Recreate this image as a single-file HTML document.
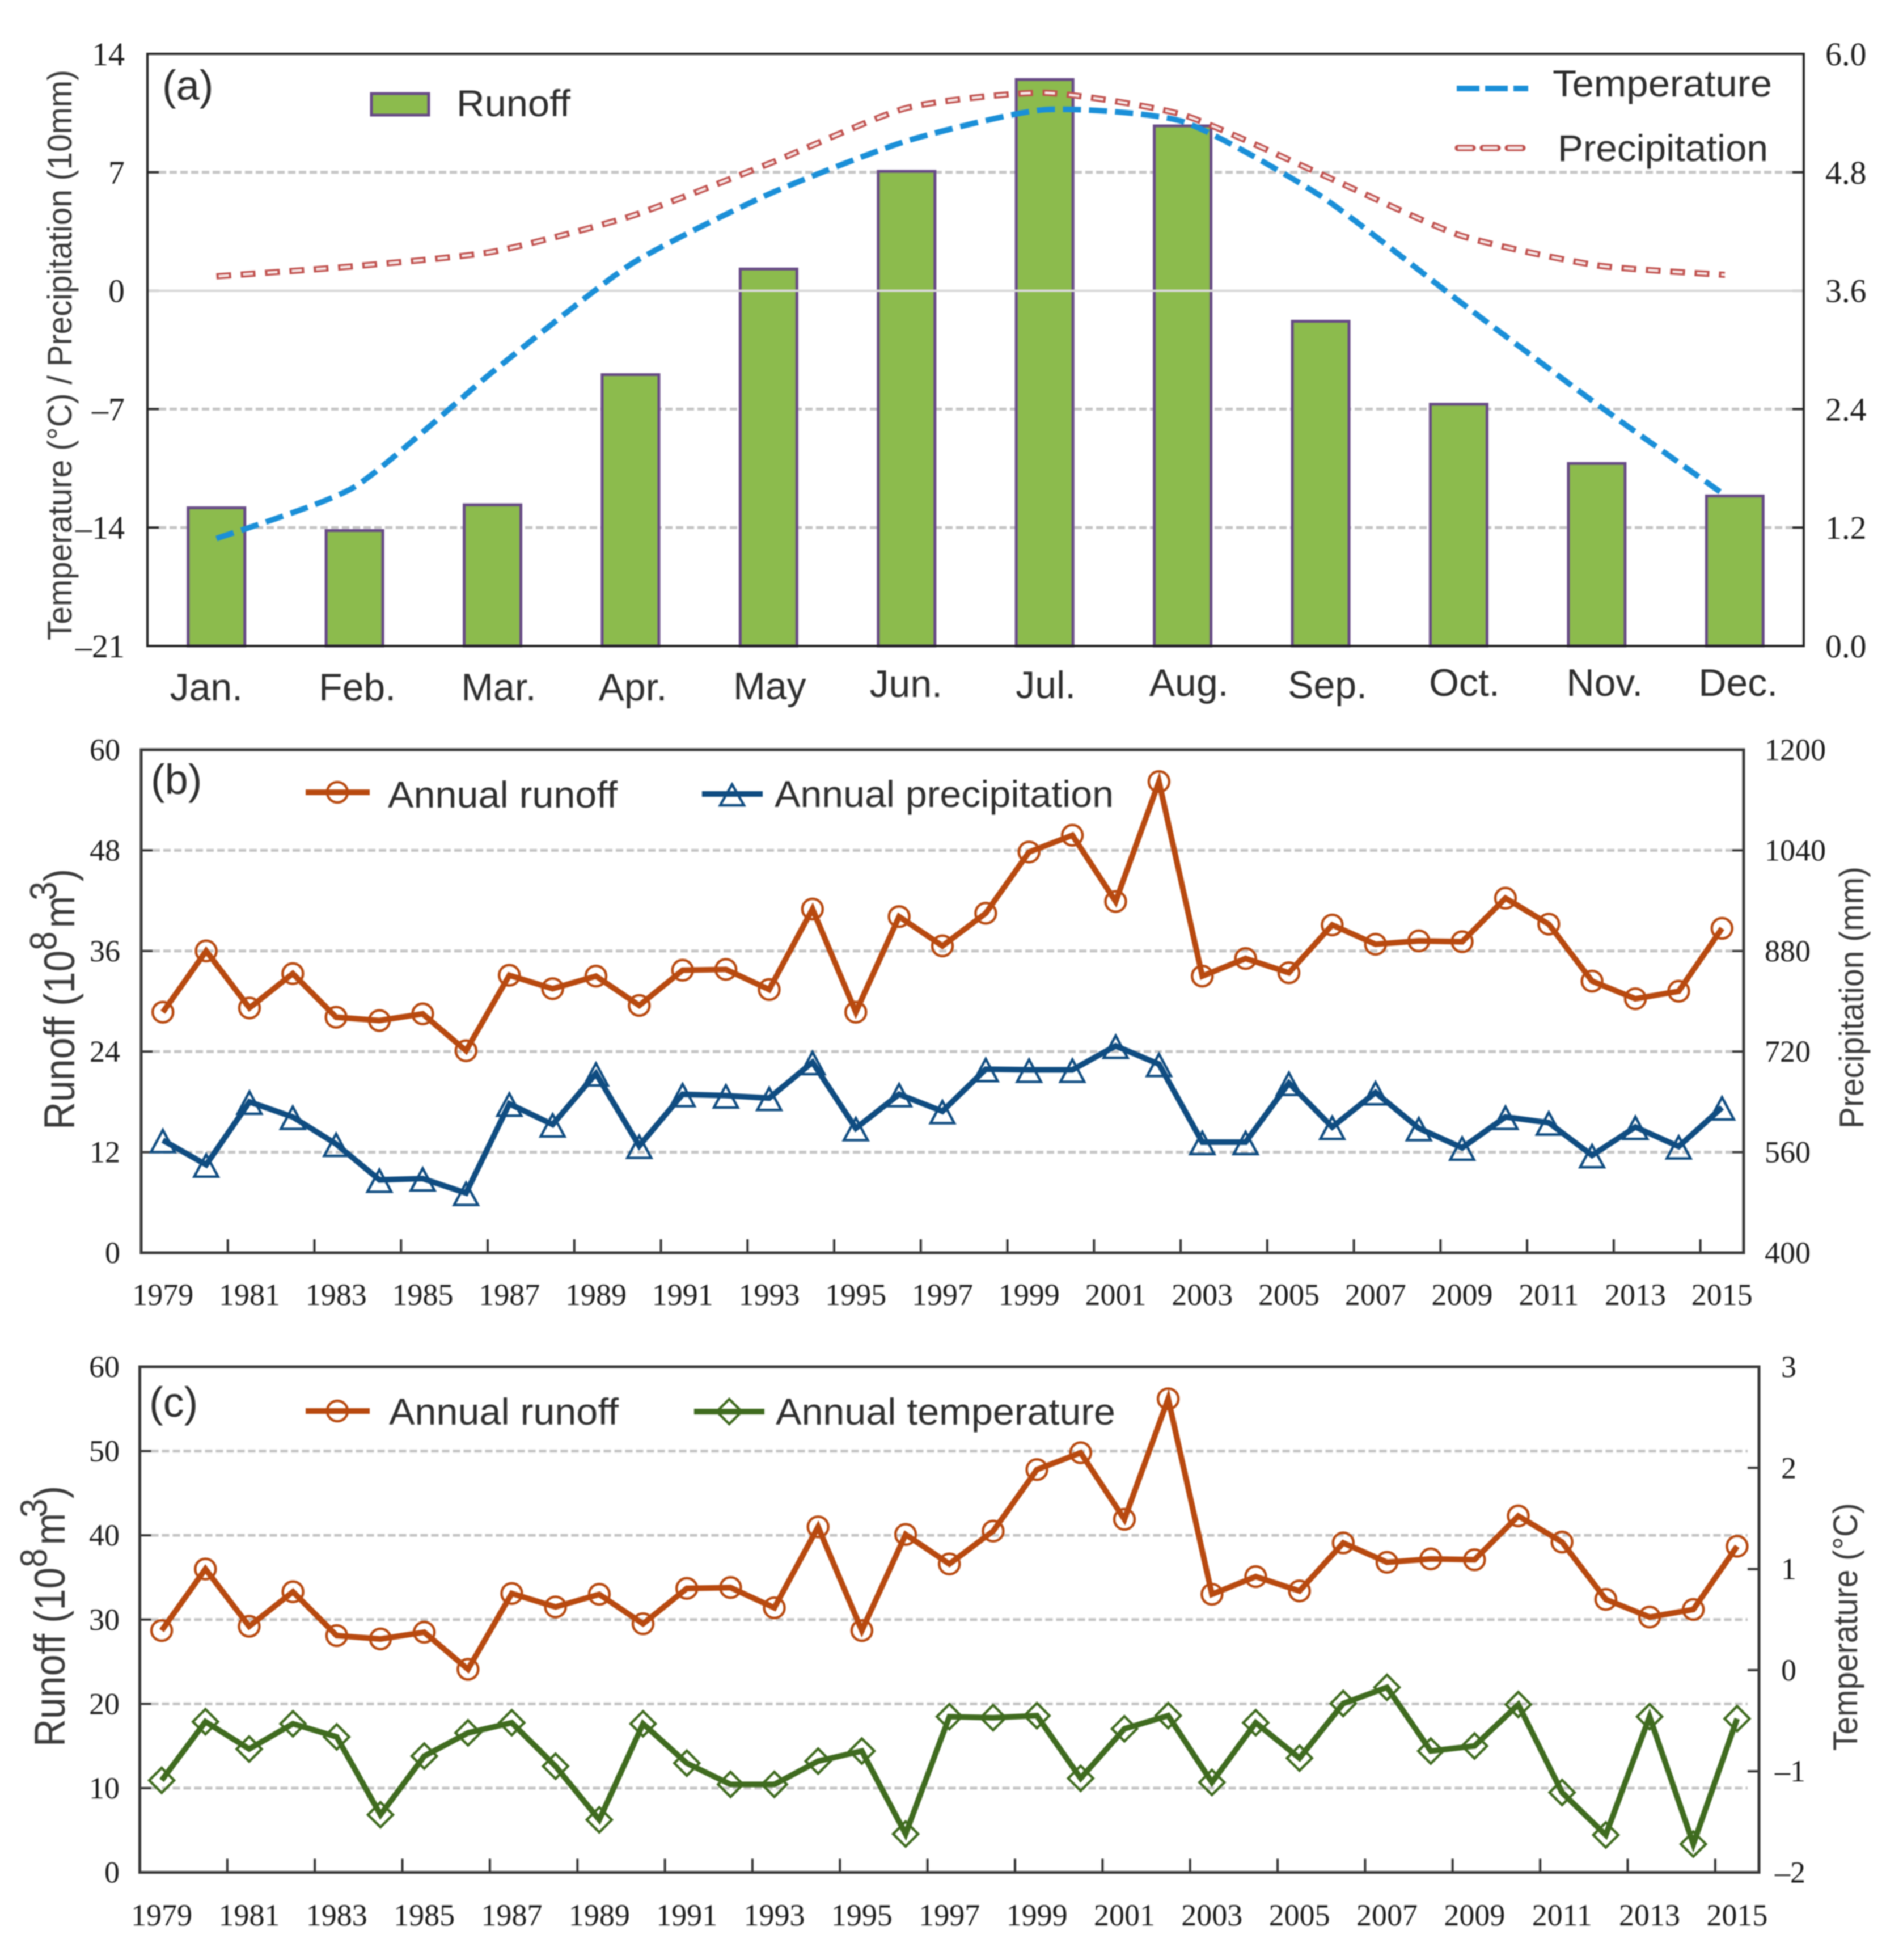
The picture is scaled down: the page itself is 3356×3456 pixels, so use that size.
<!DOCTYPE html>
<html lang="en">
<head>
<meta charset="utf-8">
<title>Monthly and annual runoff, precipitation and temperature</title>
<style>
  html, body { margin: 0; padding: 0; background: #fff; }
  body { width: 3356px; height: 3456px; overflow: hidden; }
  #figure { display: block; filter: blur(1px); }
  .sans { font-family: "Liberation Sans", sans-serif; fill: #2e2e2e; }
  .serif { font-family: "Liberation Serif", serif; fill: #1c1c1c; }
  .leg { font-size: 66px; }
  .panel-tag { font-size: 74px; }
  .title { font-size: 60px; fill: #3c3c3c; }
  .title-big { font-size: 68px; fill: #3c3c3c; }
</style>
</head>
<body>
<svg id="figure" xmlns="http://www.w3.org/2000/svg" width="3356" height="3456" viewBox="0 0 3356 3456">
  <defs>
    <clipPath id="curve-clip"><rect x="260" y="95" width="2782" height="1044"/></clipPath>
  </defs>
  <rect width="3356" height="3456" fill="#fff"/>

  <g id="panel-a"></g>
  <g id="panel-b"></g>
  <g id="panel-c"></g>

  <!-- Panel A annotations -->
  <text class="sans panel-tag" x="286" y="176">(a)</text>
  <text class="sans title" transform="translate(126,1129) rotate(-90)" textLength="1006" lengthAdjust="spacingAndGlyphs">Temperature (°C) / Precipitation (10mm)</text>
  <g>
    <rect x="655" y="165" width="101" height="38" fill="#8cbb4d" stroke="#674a86" stroke-width="5"/>
    <text class="sans leg" x="805" y="205" textLength="201" lengthAdjust="spacingAndGlyphs">Runoff</text>
  </g>
  <g>
    <line x1="2569" y1="156" x2="2695" y2="156" stroke="#1a8fd8" stroke-width="10" stroke-dasharray="40 10"/>
    <text class="sans leg" x="2738" y="170" textLength="387" lengthAdjust="spacingAndGlyphs">Temperature</text>
  </g>
  <g>
    <line x1="2571" y1="261" x2="2695" y2="261" stroke="#c0504d" stroke-width="11" stroke-dasharray="26 18" stroke-linecap="round"/>
    <line x1="2571" y1="261" x2="2695" y2="261" stroke="#f4e6e6" stroke-width="5" stroke-dasharray="26 18"/>
    <text class="sans leg" x="2747" y="284" textLength="371" lengthAdjust="spacingAndGlyphs">Precipitation</text>
  </g>

  <!-- Panel B annotations -->
  <text class="sans panel-tag" x="266" y="1400">(b)</text>
  <text class="sans title-big" transform="translate(131,1992) rotate(-90) scale(1,1.12)">Runoff (10<tspan dy="-28" font-size="60">8</tspan><tspan dy="28" dx="6">m</tspan><tspan dy="-28" dx="-8" font-size="60">3</tspan><tspan dy="28">)</tspan></text>
  <text class="sans title" transform="translate(3286,1990) rotate(-90)" textLength="462" lengthAdjust="spacingAndGlyphs">Precipitation (mm)</text>
  <g>
    <line x1="539" y1="1397" x2="652" y2="1397" stroke="#b8490f" stroke-width="10"/>
    <circle cx="595" cy="1397" r="18" fill="none" stroke="#b8490f" stroke-width="4.5"/>
    <text class="sans leg" x="684" y="1424" textLength="405" lengthAdjust="spacingAndGlyphs">Annual runoff</text>
  </g>
  <g>
    <line x1="1238" y1="1400" x2="1345" y2="1400" stroke="#0f4c81" stroke-width="10"/>
    <polygon points="1291,1383 1312,1420 1270,1420" fill="none" stroke="#0f4c81" stroke-width="4.5"/>
    <text class="sans leg" x="1366" y="1423" textLength="598" lengthAdjust="spacingAndGlyphs">Annual precipitation</text>
  </g>

  <!-- Panel C annotations -->
  <text class="sans panel-tag" x="263" y="2498">(c)</text>
  <text class="sans title-big" transform="translate(114,3080) rotate(-90) scale(1,1.12)">Runoff (10<tspan dy="-28" font-size="60">8</tspan><tspan dy="28" dx="6">m</tspan><tspan dy="-28" dx="-8" font-size="60">3</tspan><tspan dy="28">)</tspan></text>
  <text class="sans title" transform="translate(3275,3087) rotate(-90)" textLength="437" lengthAdjust="spacingAndGlyphs">Temperature (°C)</text>
  <g>
    <line x1="539" y1="2488" x2="652" y2="2488" stroke="#b8490f" stroke-width="10"/>
    <circle cx="595" cy="2488" r="18" fill="none" stroke="#b8490f" stroke-width="4.5"/>
    <text class="sans leg" x="686" y="2512" textLength="405" lengthAdjust="spacingAndGlyphs">Annual runoff</text>
  </g>
  <g>
    <line x1="1224" y1="2489" x2="1348" y2="2489" stroke="#3f6b1f" stroke-width="10"/>
    <polygon points="1286,2467 1308,2489 1286,2511 1264,2489" fill="none" stroke="#3f6b1f" stroke-width="4.5"/>
    <text class="sans leg" x="1368" y="2512" textLength="599" lengthAdjust="spacingAndGlyphs">Annual temperature</text>
  </g>
</svg>

<script>
/* ---------- chart data ---------- */
const months = ['Jan.','Feb.','Mar.','Apr.','May','Jun.','Jul.','Aug.','Sep.','Oct.','Nov.','Dec.'];
const monthlyRunoff = [1.40,1.17,1.43,2.75,3.82,4.81,5.74,5.27,3.29,2.45,1.85,1.52];
const monthlyTemperature = [-14.65,-11.6,-4.8,1.55,5.7,8.85,10.7,10.0,5.6,-0.6,-6.7,-12.5];
const monthlyPrecipitation = [0.85,1.45,2.3,4.4,7.5,10.8,11.7,10.4,6.9,3.3,1.5,0.9];
const ticksATemperature = [-21,-14,-7,0,7,14];
const ticksARunoff = ['0.0','1.2','2.4','3.6','4.8','6.0'];

const years = [1979,1980,1981,1982,1983,1984,1985,1986,1987,1988,1989,1990,1991,1992,1993,1994,1995,1996,1997,1998,1999,2000,2001,2002,2003,2004,2005,2006,2007,2008,2009,2010,2011,2012,2013,2014,2015];
const annualRunoff = [28.7,36.0,29.2,33.3,28.1,27.7,28.5,24.1,33.1,31.5,33.0,29.5,33.7,33.8,31.4,41.0,28.7,40.1,36.6,40.5,47.8,49.8,41.9,56.2,33.0,35.1,33.4,39.1,36.8,37.2,37.1,42.3,39.2,32.4,30.3,31.2,38.7];
const annualPrecipitation = [579,540,640,616,573,516,518,495,637,604,685,570,652,650,646,703,598,652,625,692,691,691,729,700,576,576,670,600,655,598,567,616,607,555,600,569,631];
const annualTemperature = [-1.09,-0.51,-0.78,-0.53,-0.66,-1.43,-0.85,-0.62,-0.52,-0.95,-1.48,-0.53,-0.92,-1.13,-1.13,-0.90,-0.80,-1.62,-0.46,-0.47,-0.45,-1.07,-0.58,-0.45,-1.11,-0.52,-0.87,-0.33,-0.17,-0.80,-0.75,-0.34,-1.21,-1.63,-0.46,-1.72,-0.48];

const ticksBRunoff = [0,12,24,36,48,60];
const ticksBPrecipitation = [400,560,720,880,1040,1200];
const ticksCRunoff = [0,10,20,30,40,50,60];
const ticksCTemperature = [-2,-1,0,1,2,3];

/* ---------- helpers ---------- */
const SVG_NS = 'http://www.w3.org/2000/svg';
function make(parent, tag, attrs, text) {
  const el = document.createElementNS(SVG_NS, tag);
  for (const k in attrs) el.setAttribute(k, attrs[k]);
  if (text !== undefined) el.textContent = text;
  parent.appendChild(el);
  return el;
}
function linear(d0, d1, r0, r1) {
  return v => r0 + (Number(v) - d0) * (r1 - r0) / (d1 - d0);
}
function smoothPath(pts) {
  const k = 0.1;
  let d = 'M' + pts[0][0] + ' ' + pts[0][1];
  for (let i = 0; i < pts.length - 1; i++) {
    const p0 = pts[Math.max(i - 1, 0)], p1 = pts[i], p2 = pts[i + 1], p3 = pts[Math.min(i + 2, pts.length - 1)];
    const c1x = p1[0] + (p2[0] - p0[0]) * k, c1y = p1[1] + (p2[1] - p0[1]) * k;
    const c2x = p2[0] - (p3[0] - p1[0]) * k, c2y = p2[1] - (p3[1] - p1[1]) * k;
    d += ' C' + c1x + ' ' + c1y + ' ' + c2x + ' ' + c2y + ' ' + p2[0] + ' ' + p2[1];
  }
  return d;
}
function fmtMinus(v) { return String(v).replace('-', '\u2013'); }

/* ---------- shared panel furniture ---------- */
function drawHorizontalGrid(g, box, values, y, skip) {
  values.forEach(v => {
    if (v === values[0] || v === values[values.length - 1] || v === skip) return;
    const line = make(g, 'line', { x1: box.left + 20, x2: box.right - 20, y1: y(v), y2: y(v), stroke: '#c4c4c4', 'stroke-width': 5, 'stroke-dasharray': '13 6' });
    
    
  });
}
function drawSideTicks(g, box, values, y, side, color) {
  values.forEach(v => {
    if (v === values[0] || v === values[values.length - 1]) return;
    const x1 = side === 'left' ? box.left : box.right;
    const x2 = side === 'left' ? box.left + 20 : box.right - 20;
    const tick = make(g, 'line', { x1: x1, x2: x2, y1: y(v), y2: y(v), stroke: color, 'stroke-width': 4 });
    
    
  });
}
function drawFrame(g, box, color, width) {
  const frame = make(g, 'rect', { x: box.left, y: box.top, width: box.right - box.left, height: box.bottom - box.top, fill: 'none', stroke: color, 'stroke-width': width });
  
  
}
function drawAxisLabels(g, values, y, side, x, size, offset) {
  values.forEach(v => {
    const isNeg = Number(v) < 0;
    const attrs = { class: 'serif', 'font-size': size, y: y(v) + offset };
    attrs.x = x;
    attrs['text-anchor'] = side === 'left' ? 'end' : 'start';
    const label = make(g, 'text', attrs, fmtMinus(v));
    
    
    if (side === 'right-temp' && isNeg) {
      label.setAttribute('text-anchor', 'end');
      label.setAttribute('x', x + 43);
    }
  });
}

/* ---------- panel A ---------- */
(function drawPanelA() {
  const g = document.getElementById('panel-a');
  const box = { left: 260, right: 3181, top: 95, bottom: 1139 };
  const n = months.length;
  const band = (box.right - box.left) / n;
  const xC = i => box.left + band * (i + 0.5);
  const yL = linear(ticksATemperature[0], ticksATemperature[ticksATemperature.length - 1], box.bottom, box.top);
  const yR = linear(Number(ticksARunoff[0]), Number(ticksARunoff[ticksARunoff.length - 1]), box.bottom, box.top);
  const barWidth = 100;
  const monthLabelNudge = [-18, 5, 11, 4, 2, -1, 2, 11, 12, 10, 14, 6];
  const monthLabelDrop = [96, 96, 96, 96, 94, 90, 92, 88, 92, 88, 88, 88];

  drawHorizontalGrid(g, box, ticksATemperature, yL, 0);
  drawSideTicks(g, box, ticksATemperature, yL, 'left', '#222');
  drawSideTicks(g, box, ticksARunoff, yR, 'right', '#222');

  monthlyRunoff.forEach((v, i) => {
    const bar = make(g, 'rect', { x: xC(i) - barWidth / 2, y: yR(v), width: barWidth, height: box.bottom - yR(v), fill: '#8cbb4d', stroke: '#674a86', 'stroke-width': 5 });
    
    
  });

  const zero = make(g, 'line', { x1: box.left, x2: box.right, y1: yL(0), y2: yL(0), stroke: '#d9d9d9', 'stroke-width': 4 });
  
  

  drawFrame(g, box, '#222', 4);

  const tempPts = monthlyTemperature.map((v, i) => [xC(i), yL(v)]);
  const temp = make(g, 'path', { d: smoothPath(tempPts), fill: 'none', stroke: '#1a8fd8', 'stroke-width': 10, 'stroke-dasharray': '32 14', 'clip-path': 'url(#curve-clip)' });
  
  

  const precipPts = monthlyPrecipitation.map((v, i) => [xC(i), yL(v)]);
  const precip = make(g, 'path', { d: smoothPath(precipPts), fill: 'none', stroke: '#c0504d', 'stroke-width': 11, 'stroke-dasharray': '26 17', 'clip-path': 'url(#curve-clip)' });
  
  
  const precipInner = make(g, 'path', { d: smoothPath(precipPts), fill: 'none', stroke: '#f6e8e8', 'stroke-width': 4.5, 'stroke-dasharray': '18 25', 'stroke-dashoffset': -4, 'clip-path': 'url(#curve-clip)' });
  
  

  drawAxisLabels(g, ticksATemperature, yL, 'left', 220, 58, 20);
  drawAxisLabels(g, ticksARunoff, yR, 'right', 3219, 58, 20);

  months.forEach((m, i) => {
    const label = make(g, 'text', { class: 'sans', 'font-size': 68, 'text-anchor': 'middle', x: xC(i) + monthLabelNudge[i], y: box.bottom + monthLabelDrop[i] }, m);
    
    
  });
})();

/* ---------- annual panels ---------- */
function drawAnnualPanel(g, box, leftTicks, rightTicks, leftEnd, rightStart, yearBaseline, lowerSeries, yLowerFromRight, markerKind, lowerColor, rightSide) {
  const n = years.length;
  const band = (box.right - box.left) / n;
  const xC = i => box.left + band * (i + 0.5);
  const yL = linear(leftTicks[0], leftTicks[leftTicks.length - 1], box.bottom, box.top);
  const yR = linear(rightTicks[0], rightTicks[rightTicks.length - 1], box.bottom, box.top);

  drawHorizontalGrid(g, box, leftTicks, yL);
  drawSideTicks(g, box, leftTicks, yL, 'left', '#333');
  drawSideTicks(g, box, rightTicks, yR, 'right', '#333');

  years.forEach((yr, i) => {
    if (i > 0 && i % 2 === 0) {
      const tx = box.left + band * i;
      const tick = make(g, 'line', { x1: tx, x2: tx, y1: box.bottom, y2: box.bottom - 24, stroke: '#333', 'stroke-width': 4 });
      
      
    }
  });

  drawFrame(g, box, '#3a3a3a', 5);

  /* runoff series */
  const runoffLine = make(g, 'polyline', { points: annualRunoff.map((v, i) => xC(i) + ',' + yL(v)).join(' '), fill: 'none', stroke: '#b8490f', 'stroke-width': 10, 'stroke-linejoin': 'miter' });
  
  
  annualRunoff.forEach((v, i) => {
    const c = make(g, 'circle', { cx: xC(i), cy: yL(v), r: 18, fill: 'none', stroke: '#b8490f', 'stroke-width': 4.5 });
    
    
  });

  /* lower series */
  const yLower = yLowerFromRight ? yR : yL;
  const lowerLine = make(g, 'polyline', { points: lowerSeries.map((v, i) => xC(i) + ',' + yLower(v)).join(' '), fill: 'none', stroke: lowerColor, 'stroke-width': 10, 'stroke-linejoin': 'miter' });
  
  
  lowerSeries.forEach((v, i) => {
    const x = xC(i), y = yLower(v);
    const pts = markerKind === 'triangle'
      ? [[x, y - 18], [x + 21, y + 21], [x - 21, y + 21]]
      : [[x, y - 22], [x + 22, y], [x, y + 22], [x - 22, y]];
    const m = make(g, 'polygon', { points: pts.map(p => p.join(',')).join(' '), fill: 'none', stroke: lowerColor, 'stroke-width': 4.5 });
    
    
  });

  drawAxisLabels(g, leftTicks, yL, 'left', leftEnd, 54, 18);
  drawAxisLabels(g, rightTicks, yR, rightSide, rightStart, 54, 18);

  years.forEach((yr, i) => {
    if (i % 2 !== 0) return;
    const label = make(g, 'text', { class: 'serif', 'font-size': 54, 'text-anchor': 'middle', x: xC(i), y: yearBaseline }, yr);
    
    
  });
}

drawAnnualPanel(document.getElementById('panel-b'),
  { left: 249, right: 3075, top: 1322, bottom: 2209 },
  ticksBRunoff, ticksBPrecipitation, 212, 3112, 2301,
  annualPrecipitation, true, 'triangle', '#0f4c81', 'right');

drawAnnualPanel(document.getElementById('panel-c'),
  { left: 246.5, right: 3102, top: 2410, bottom: 3301.5 },
  ticksCRunoff, ticksCTemperature, 211, 3141, 3395,
  annualTemperature, true, 'diamond', '#3f6b1f', 'right-temp');
</script>
</body>
</html>
